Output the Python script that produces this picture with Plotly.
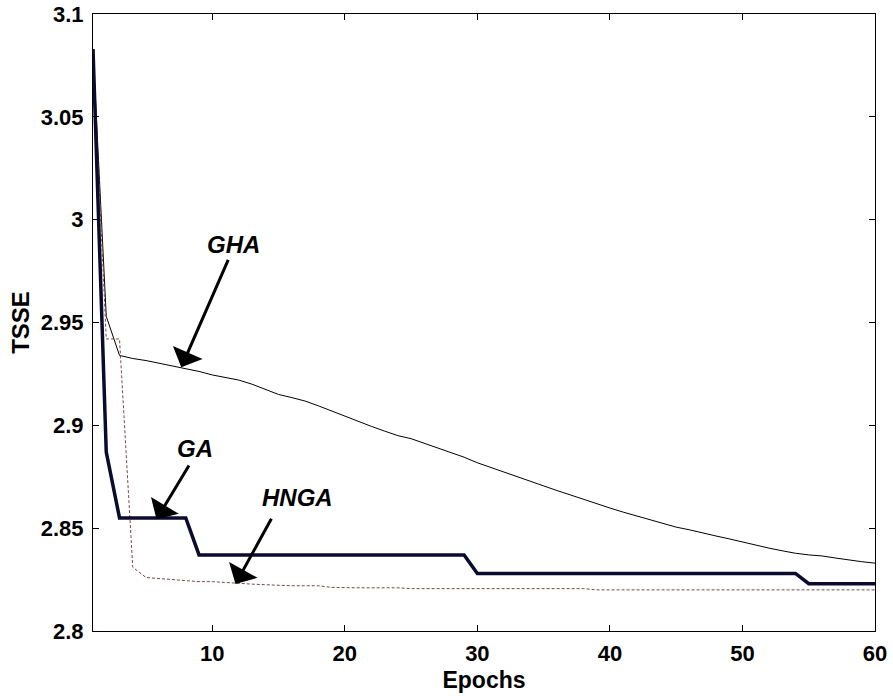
import plotly.graph_objects as go

epochs = list(range(1, 61))

ga = [3.083, 2.887] + [2.855] * 6 + [2.837] * 21 + [2.828] * 25 + [2.823] * 6

gha = [3.083, 2.953, 2.934, 2.9325, 2.9315, 2.9302, 2.929, 2.9278, 2.9262, 2.9245,
       2.9232, 2.922, 2.920, 2.9175, 2.915, 2.9135, 2.9118, 2.9095, 2.907, 2.9042,
       2.902, 2.8995, 2.8972, 2.895, 2.8935, 2.8913, 2.889, 2.8868, 2.8845, 2.8818,
       2.8795, 2.8772, 2.875, 2.8727, 2.8705, 2.8683, 2.8662, 2.864, 2.8618, 2.8598,
       2.8578, 2.856, 2.8542, 2.8522, 2.8505, 2.8492, 2.8476, 2.8462, 2.8448, 2.8432,
       2.8418, 2.8403, 2.839, 2.8378, 2.837, 2.8365, 2.8355, 2.8345, 2.8337, 2.833]

hnga = [3.083, 2.942, 2.942, 2.831, 2.826, 2.8255, 2.825, 2.8245, 2.824, 2.824,
        2.8235, 2.823, 2.8228, 2.8225, 2.8222, 2.822, 2.822, 2.822, 2.8212, 2.821,
        2.821, 2.821, 2.821, 2.821, 2.8206, 2.8206, 2.8206, 2.8206, 2.8206, 2.8206,
        2.8206, 2.8206, 2.8206, 2.8206, 2.8206, 2.8206, 2.8206, 2.8206, 2.820, 2.820,
        2.820, 2.820, 2.820, 2.820, 2.820, 2.820, 2.820, 2.820, 2.820, 2.820,
        2.820, 2.820, 2.820, 2.820, 2.820, 2.820, 2.820, 2.820, 2.820, 2.820]

x_ticks = [10, 20, 30, 40, 50, 60]
y_ticks = [2.8, 2.85, 2.9, 2.95, 3.0, 3.05, 3.1]
y_tick_text = ["2.8", "2.85", "2.9", "2.95", "3", "3.05", "3.1"]

# labels: (text, text_x, text_y, tail_x, tail_y, tip_x, tip_y)
labels = [
    ("GHA", 11.58, 2.9877, 11.25, 2.9812, 7.66, 2.9282),
    ("GA", 8.68, 2.8888, 8.31, 2.8812, 5.79, 2.8543),
    ("HNGA", 16.41, 2.865, 14.52, 2.8553, 11.75, 2.8228),
]

FONT = "Liberation Sans, Arial, Helvetica, sans-serif"

fig = go.Figure()
fig.add_trace(go.Scatter(x=epochs, y=gha, mode="lines",
                         line=dict(color="#000000", width=1), name="GHA"))
fig.add_trace(go.Scatter(x=epochs, y=hnga, mode="lines",
                         line=dict(color="#7a4848", width=1, dash="3px,2px"), name="HNGA"))
fig.add_trace(go.Scatter(x=epochs, y=ga, mode="lines",
                         line=dict(color="#0b0b2e", width=3.5), name="GA"))

for text, tx, ty, ax_, ay_, px, py in labels:
    fig.add_annotation(x=px, y=py, ax=ax_, ay=ay_, xref="x", yref="y",
                       axref="x", ayref="y", text="", showarrow=True,
                       arrowhead=1, arrowsize=1.8, arrowwidth=3, arrowcolor="#000000")
    fig.add_annotation(x=tx, y=ty, xref="x", yref="y", text="<i><b>%s</b></i>" % text,
                       showarrow=False, font=dict(family=FONT, size=24, color="#000000"))

axis_common = dict(showgrid=False, zeroline=False, showline=True, linecolor="#000000",
                   linewidth=1, mirror="allticks", ticks="inside", ticklen=6,
                   tickcolor="#000000", tickwidth=1, automargin=False)

fig.update_xaxes(range=[1, 60], tickvals=x_ticks, ticklabelstandoff=3,
                 tickfont=dict(family=FONT, size=22, color="#000000", weight="bold"),
                 title=dict(text="<b>Epochs</b>", standoff=6,
                            font=dict(family=FONT, size=23, color="#000000")),
                 **axis_common)
fig.update_yaxes(range=[2.8, 3.1], tickvals=y_ticks, ticktext=y_tick_text,
                 ticklabelstandoff=4,
                 tickfont=dict(family=FONT, size=22, color="#000000", weight="bold"),
                 title=dict(text="<b>TSSE</b>", standoff=4,
                            font=dict(family=FONT, size=24, color="#000000")),
                 **axis_common)

fig.update_layout(width=893, height=696, showlegend=False,
                  plot_bgcolor="#ffffff", paper_bgcolor="#ffffff",
                  margin=dict(l=93, r=18, t=14, b=65, autoexpand=False))

fig.write_html("out.html", config={"displayModeBar": False},
               post_script="document.body.style.margin='0';document.body.style.overflow='hidden';")
